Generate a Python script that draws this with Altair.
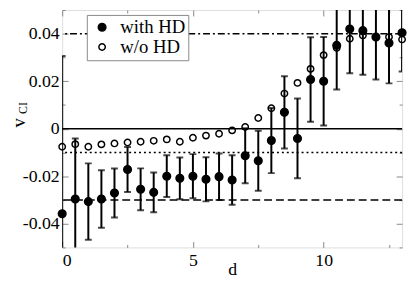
import altair as alt
import pandas as pd

# ---------------- data ----------------
d_values = [0, 0.5, 1, 1.5, 2, 2.5, 3, 3.5, 4, 4.5, 5, 5.5, 6, 6.5, 7,
            7.5, 8, 8.5, 9, 9.5, 10, 10.5, 11, 11.5, 12, 12.5, 13]
with_hd = [-0.0358, -0.0296, -0.0307, -0.0296, -0.0271, -0.0172, -0.0255, -0.0268,
           -0.0200, -0.0209, -0.0200, -0.0213, -0.0202, -0.0216, -0.0114, -0.0135,
           -0.0050, 0.0069, -0.0041, 0.0207, 0.0200, 0.0351, 0.0420, 0.0413,
           0.0386, 0.0361, 0.0404]
with_hd_err = [0.0664, 0.0255, 0.0161, 0.0121, 0.0103, 0.0095, 0.0088, 0.0084,
               0.0088, 0.0088, 0.0093, 0.0093, 0.0098, 0.0104, 0.0116, 0.0126,
               0.0137, 0.0152, 0.0168, 0.0178, 0.0186, 0.0186, 0.0186, 0.0186,
               0.0179, 0.0170, 0.0163]
wo_hd = [-0.0076, -0.0065, -0.0076, -0.0066, -0.0062, -0.0058, -0.0055, -0.0051,
         -0.0045, -0.0055, -0.0038, -0.0029, -0.0021, -0.0007, 0.0007, 0.0045,
         0.0086, 0.0148, 0.0193, 0.0252, 0.0310, 0.0340, 0.0379, 0.0393,
         0.0385, 0.0386, 0.0376]

ref_y = [0.04, 0.0, -0.01, -0.03]
ref_style = ["dashdot", "solid", "dotted", "dashed"]

series_names = ["with HD", "w/o HD"]
x_major = [0, 5, 10]
x_minor = [2.5, 7.5, 12.5]
y_major = [-0.04, -0.02, 0, 0.02, 0.04]
y_minor = [-0.05, -0.03, -0.01, 0.01, 0.03, 0.05]

# ---------------- tables ----------------
err_df = pd.DataFrame({
    "d": d_values,
    "v": with_hd,
    "lo": [v - e for v, e in zip(with_hd, with_hd_err)],
    "hi": [v + e for v, e in zip(with_hd, with_hd_err)],
})
filled_df = pd.DataFrame({"d": d_values, "v": with_hd, "series": series_names[0]})
open_df = pd.DataFrame({"d": d_values, "v": wo_hd, "series": series_names[1]})
ref_df = pd.DataFrame({"y": ref_y, "style": ref_style})

W, H = 345, 241
FONT = "Liberation Serif"
TICK = "#888888"

xs = alt.Scale(domain=[0, 13], nice=False, zero=False)
ys = alt.Scale(domain=[-0.05, 0.05], nice=False, zero=False)


def tick_axis(orient, values, size, **kw):
    a = dict(orient=orient, values=values, tickSize=size, labels=False, domain=False,
             grid=False, title=None, tickColor=TICK, tickWidth=1)
    a.update(kw)
    return alt.Axis(**a)


x_label_axis = alt.Axis(orient="bottom", values=x_major, ticks=False, domain=False, grid=False,
                        format="d", labelFont=FONT, labelFontSize=18, labelColor="black",
                        labelPadding=4, title="d", titleFont=FONT, titleFontSize=18,
                        titleFontWeight="normal", titleColor="black",
                        titleY=27, titleBaseline="alphabetic")
y_label_axis = alt.Axis(orient="left", values=y_major, ticks=False, domain=False, grid=False,
                        labelExpr="datum.value == 0 ? '0' : (datum.value < 0 ? '-' : '') + format(abs(datum.value), '.2f')",
                        labelFont=FONT, labelFontSize=18, labelColor="black", labelPadding=3,
                        title="v", titleFont=FONT, titleFontSize=19, titleFontWeight="normal",
                        titleColor="black", titleAngle=270, titleX=-38, titleY=114,
                        titleAlign="center", titleBaseline="alphabetic")

legend = alt.Legend(orient="none", legendX=25, legendY=5, title=None, strokeColor="#888888",
                    fillColor="white", padding=3, rowPadding=0, labelFont=FONT, labelFontSize=19,
                    labelColor="black", symbolStrokeColor="black", symbolStrokeWidth=1.5,
                    symbolOffset=3, labelOffset=9, symbolType="circle")

fill_enc = alt.Fill("series:N", scale=alt.Scale(domain=series_names, range=["black", "transparent"]),
                    legend=legend)
stroke_enc = alt.Stroke("series:N", scale=alt.Scale(domain=series_names, range=["black", "black"]),
                        legend=legend)
size_enc = alt.Size("series:N", scale=alt.Scale(domain=series_names, range=[60, 42]), legend=legend)

# reference lines
hlines = alt.Chart(ref_df).mark_rule(color="black", strokeWidth=1.5).encode(
    y=alt.Y("y:Q", scale=ys, axis=None),
    strokeDash=alt.StrokeDash("style:N", scale=alt.Scale(
        domain=ref_style, range=[[7, 3, 2, 3], [1, 0], [2, 3], [8, 4]]), legend=None),
)

# open circles (w/o HD)
open_pts = alt.Chart(open_df).mark_point(shape="circle", filled=True,
                                         strokeWidth=1.5, opacity=1).encode(
    x=alt.X("d:Q", scale=xs, axis=tick_axis("top", x_minor, 3, offset=-H)),
    y=alt.Y("v:Q", scale=ys, axis=tick_axis("right", y_minor, 3, offset=-W)),
    fill=fill_enc, stroke=stroke_enc, size=size_enc,
)

# error bars
rules = alt.Chart(err_df).mark_rule(color="black", strokeWidth=2, clip=True).encode(
    x=alt.X("d:Q", scale=xs, axis=x_label_axis),
    y=alt.Y("lo:Q", scale=ys, axis=y_label_axis),
    y2="hi:Q",
)
cap_lo = alt.Chart(err_df).mark_tick(color="black", orient="horizontal", size=7, thickness=2,
                                     clip=True).encode(
    x=alt.X("d:Q", scale=xs, axis=tick_axis("top", x_major, 6, offset=-H)),
    y=alt.Y("lo:Q", scale=ys, axis=tick_axis(
        "right", y_major, 6, offset=-W, title="CI", titleFont=FONT, titleFontSize=12,
        titleFontWeight="normal", titleColor="black", titleAngle=270, titleX=-36,
        titleY=99, titleAlign="center", titleBaseline="alphabetic")),
)
cap_hi = alt.Chart(err_df).mark_tick(color="black", orient="horizontal", size=7, thickness=2,
                                     clip=True).encode(
    x=alt.X("d:Q", scale=xs, axis=tick_axis("bottom", x_major, 6, offset=-H)),
    y=alt.Y("hi:Q", scale=ys, axis=tick_axis("left", y_major, 6, offset=-W)),
)

# filled circles (with HD)
filled_pts = alt.Chart(filled_df).mark_point(shape="circle", filled=True,
                                             strokeWidth=1.5, opacity=1).encode(
    x=alt.X("d:Q", scale=xs, axis=tick_axis("bottom", x_minor, 3, offset=-H)),
    y=alt.Y("v:Q", scale=ys, axis=tick_axis("left", y_minor, 3, offset=-W)),
    fill=fill_enc, stroke=stroke_enc, size=size_enc,
)

chart = alt.layer(hlines, open_pts, rules, cap_lo, cap_hi, filled_pts).resolve_axis(
    x="independent", y="independent"
).properties(
    width=W, height=H,
    autosize=alt.AutoSizeParams(type="none"),
    padding={"left": 55, "top": 0, "right": 5, "bottom": 29},
).configure_view(stroke="#333333", strokeWidth=1).configure(background="white", font=FONT)

chart.save("out.html", embed_options={"renderer": "svg", "actions": False})
